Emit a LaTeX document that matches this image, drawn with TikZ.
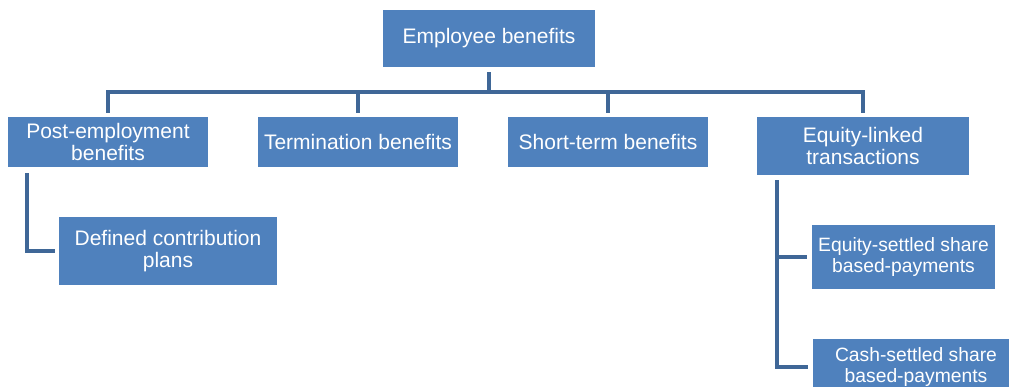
\documentclass[tikz,border=0pt]{standalone}
\usepackage{fontspec}
\setmainfont{Liberation Sans}
\usetikzlibrary{
    positioning,
    calc
}
\definecolor{boxblue}{HTML}{4F81BD}
\definecolor{linkblue}{HTML}{3F6797}
\tikzset{
  benefitbox/.style={
    fill=boxblue,
    text=white,
    align=center,
    inner sep=0pt,
    font=\fontsize{21}{22}\selectfont
  },
  smallbox/.style={
    benefitbox,
    font=\fontsize{19.3}{20.5}\selectfont
  },
  link/.style={
    draw=linkblue,
    line width=3.5pt
  }
}

\begin{document}
\begin{tikzpicture}[x=1pt, y=1pt]

  \clip (0,0) rectangle (1009,-387);

  % root {{{
  \node[benefitbox, minimum width=212pt, minimum height=57pt]
    (root) at (489,-38.5) {Employee benefits};
  % }}}

  % first level {{{
  \node[benefitbox, minimum width=200pt, minimum height=50pt]
    (post) at (108,-142) {Post-employment\\benefits};
  \node[benefitbox, minimum width=200pt, minimum height=50pt]
    (term) at (358,-142) {Termination benefits};
  \node[benefitbox, minimum width=200pt, minimum height=50pt]
    (short) at (608,-142) {Short-term benefits};
  \node[benefitbox, minimum width=212pt, minimum height=58pt]
    (equity) at (863,-146) {Equity-linked\\transactions};
  % }}}

  % second level {{{
  \node[benefitbox, minimum width=218pt, minimum height=68pt]
    (contrib) at (168,-251) {Defined contribution\\plans};
  \node[smallbox, minimum width=183pt, minimum height=64pt]
    (eqsettled) at (903.5,-257) {Equity-settled share\\based-payments};
  \node[smallbox, minimum width=206pt, minimum height=56pt]
    (cashsettled) at (916,-367) {Cash-settled share\\based-payments};
  % }}}

  % connectors {{{
  \foreach \child in {post, term, short, equity}
    \draw[link] ([yshift=-5pt]root.south) -- ++(0,-20)
      -| ([yshift=4pt]\child.north);

  \draw[link] ([xshift=19pt, yshift=-6pt]post.south west)
    |- ([xshift=-4pt]contrib.west);

  \draw[link] ([xshift=20pt, yshift=-5pt]equity.south west)
    |- ([xshift=-5pt]eqsettled.west);
  \draw[link] ([xshift=20pt, yshift=-5pt]equity.south west)
    |- ([xshift=-5pt]cashsettled.west);
  % }}}

\end{tikzpicture}
\end{document}
